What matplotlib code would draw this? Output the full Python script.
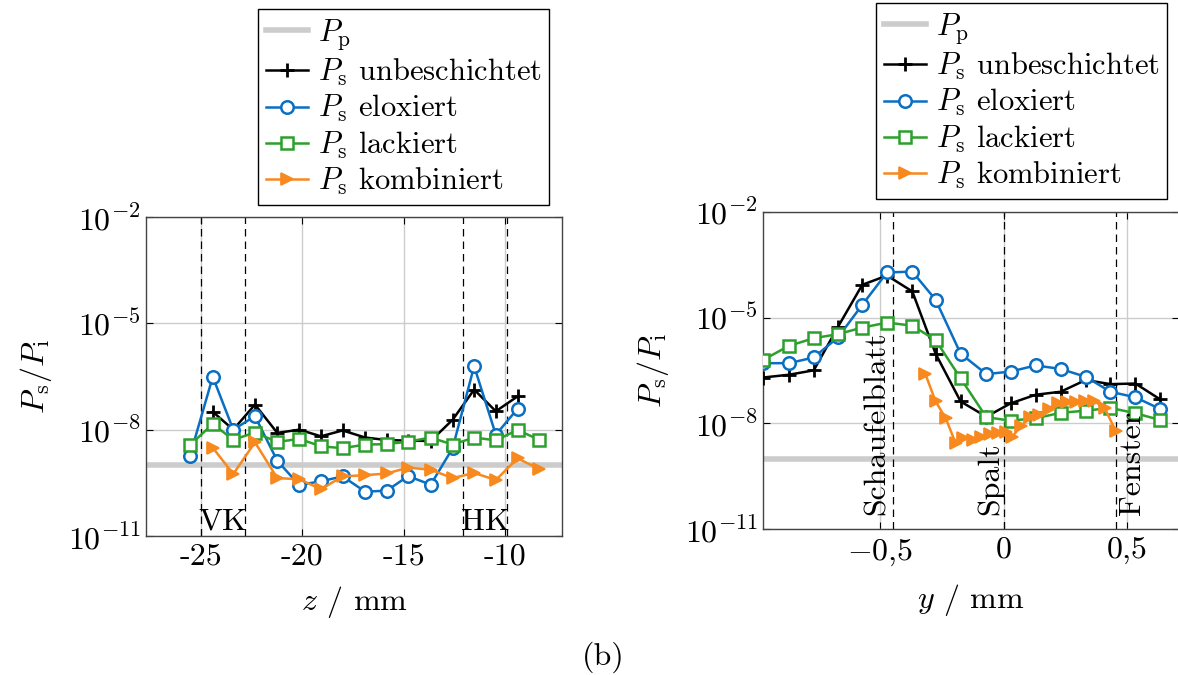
import matplotlib
matplotlib.use("Agg")
import matplotlib.pyplot as plt
import matplotlib.transforms as mtransforms
import numpy as np

plt.rcParams['font.family'] = 'cmr10'
plt.rcParams['mathtext.fontset'] = 'cm'
plt.rcParams['axes.formatter.use_mathtext'] = True
plt.rcParams['font.size'] = 23

# --- data: left plot (along z) ---
z_pos = [-25.53, -24.41, -23.40, -22.33, -21.23, -20.15, -19.08, -18.01, -16.90,
         -15.84, -14.78, -13.67, -12.59, -11.53, -10.46, -9.39, -8.33]
z_unbeschichtet = [3.2e-8, 1.0e-8, 5.1e-8, 8.1e-9, 1.0e-8, 6.5e-9, 9.5e-9, 6.0e-9,
                   5.1e-9, 4.9e-9, 4.8e-9, 1.9e-8, 1.35e-7, 3.3e-8, 8.7e-8]   # z_pos[1:16]
z_eloxiert = [1.86e-9, 3.1e-7, 1.0e-8, 2.4e-8, 1.32e-9, 2.75e-10, 3.5e-10, 4.8e-10,
              1.78e-10, 1.9e-10, 4.9e-10, 2.8e-10, 3.0e-9, 6.2e-7, 7.2e-9, 3.9e-8]  # z_pos[0:16]
z_lackiert = [3.7e-9, 1.45e-8, 5.2e-9, 8.3e-9, 4.5e-9, 5.5e-9, 3.4e-9, 3.0e-9, 3.8e-9,
              3.9e-9, 4.6e-9, 6.0e-9, 3.8e-9, 6.0e-9, 5.0e-9, 9.8e-9, 5.2e-9]     # z_pos[0:17]
z_kombiniert = [3.1e-9, 5.6e-10, 4.4e-9, 4.3e-10, 4.0e-10, 2.1e-10, 4.8e-10, 5.2e-10,
                5.8e-10, 8.5e-10, 7.4e-10, 4.3e-10, 6.0e-10, 3.8e-10, 1.55e-9, 7.8e-10]  # z_pos[1:17]
z_marks = [-25.0, -22.8, -12.07, -9.93]
z_ticks = [-25, -20, -15, -10]
z_ticklabels = ['-25', '-20', '-15', '-10']

# --- data: right plot (along y) ---
y_pos = [-0.972, -0.867, -0.767, -0.669, -0.571, -0.471, -0.369, -0.275, -0.174,
         -0.070, 0.028, 0.129, 0.230, 0.331, 0.431, 0.532, 0.630]
y_unbeschichtet = [2.0e-7, 2.4e-7, 3.2e-7, 5.5e-6, 8.5e-5, 1.55e-4, 5.5e-5, 9.5e-7, 4.2e-8,
                   1.55e-8, 3.7e-8, 6.5e-8, 7.9e-8, 1.7e-7, 1.3e-7, 1.35e-7, 4.9e-8]
y_eloxiert = [5.1e-7, 5.1e-7, 7.4e-7, 2.75e-6, 2.3e-5, 1.9e-4, 2.0e-4, 3.2e-5, 9.5e-7,
              2.5e-7, 2.95e-7, 4.4e-7, 3.5e-7, 2.1e-7, 7.9e-8, 5.5e-8, 2.6e-8]
y_lackiert = [6.3e-7, 1.58e-6, 2.6e-6, 3.4e-6, 5.2e-6, 7.2e-6, 5.9e-6, 2.3e-6, 1.9e-7,
              1.5e-8, 1.2e-8, 1.4e-8, 2.0e-8, 2.3e-8, 2.75e-8, 1.95e-8, 1.26e-8]
y_pos_komb = [-0.316, -0.275, -0.234, -0.194, -0.164, -0.124, -0.090, -0.057, -0.023, 0.011,
              0.034, 0.071, 0.105, 0.141, 0.182, 0.219, 0.256, 0.293, 0.330, 0.364, 0.408, 0.453]
y_kombiniert = [2.5e-7, 4.2e-8, 1.4e-8, 2.75e-9, 3.8e-9, 3.5e-9, 4.2e-9, 4.9e-9, 5.5e-9, 5.8e-9,
                4.2e-9, 8.5e-9, 1.5e-8, 1.7e-8, 2.6e-8, 3.7e-8, 4.0e-8, 4.1e-8, 4.3e-8, 4.4e-8,
                2.7e-8, 6.0e-9]
y_marks = [-0.449, 0.0, 0.454]
y_ticks = [-0.5, 0, 0.5]
y_ticklabels = [r'$-0{,}5$', '0', '0,5']

P_p = 1e-9
log_ticks = [1e-11, 1e-8, 1e-5, 1e-2]
log_ticklabels = [r'$10^{-11}$', r'$10^{-8}$', r'$10^{-5}$', r'$10^{-2}$']

c_blue = '#0a6fc2'
c_green = '#2ca02c'
c_orange = '#f7891f'
c_gray = '#cccccc'

fig = plt.figure(figsize=(11.78, 6.75), dpi=100)
W, H = 1178, 675
ax1 = fig.add_axes([146 / W, 1 - 536 / H, 416 / W, 319 / H])
ax2 = fig.add_axes([763 / W, 1 - 529.3 / H, 416 / W, 317.6 / H])


def style(ax):
    ax.set_yscale('log')
    ax.set_ylim(1e-11, 1e-2)
    ax.set_yticks(log_ticks)
    ax.set_yticklabels(log_ticklabels)
    ax.minorticks_off()
    ax.grid(True, color=c_gray, linewidth=1)
    ax.set_axisbelow(True)
    ax.tick_params(direction='in', length=5, top=True, right=True, width=0.8)
    ax.tick_params(axis='x', pad=5)
    for s in ax.spines.values():
        s.set_linewidth(1.0)
        s.set_color('#444444')
    ax.set_ylabel(r'$P_\mathrm{s}/P_\mathrm{i}$', labelpad=10)


def draw(ax, x, xk, un, el, la, ko, un_sl, el_sl, la_sl, ko_x):
    ax.axhline(P_p, color=c_gray, linewidth=4, label=r'$P_\mathrm{p}$', zorder=1.5)
    ax.plot(x[un_sl], un, color='black', marker='+', markersize=10, markeredgewidth=2,
            linewidth=1.8, label=r'$P_\mathrm{s}$ unbeschichtet', zorder=3)
    ax.plot(x[el_sl], el, color=c_blue, marker='o', markersize=9, markerfacecolor='white',
            markeredgewidth=1.8, linewidth=1.8, label=r'$P_\mathrm{s}$ eloxiert', zorder=3)
    ax.plot(x[la_sl], la, color=c_green, marker='s', markersize=8.5, markerfacecolor='white',
            markeredgewidth=1.8, linewidth=1.8, label=r'$P_\mathrm{s}$ lackiert', zorder=3)
    ax.plot(ko_x, ko, color=c_orange, marker='>', markersize=9, markerfacecolor=c_orange,
            markeredgewidth=1.2, linewidth=1.8, label=r'$P_\mathrm{s}$ kombiniert', zorder=3)
    for xm in xk:
        ax.axvline(xm, color='black', linestyle=(0, (6, 4)), linewidth=0.9, zorder=2)


style(ax1)
zp = np.array(z_pos)
draw(ax1, zp, z_marks, z_unbeschichtet, z_eloxiert, z_lackiert, z_kombiniert,
     slice(1, 16), slice(0, 16), slice(0, 17), zp[1:17])
ax1.set_xlim(-27.7, -7.2)
ax1.set_xticks(z_ticks)
ax1.set_xticklabels(z_ticklabels)
ax1.set_xlabel(r'$z$ / mm', labelpad=10)
tr1 = mtransforms.blended_transform_factory(ax1.transData, ax1.transAxes)
ax1.text((z_marks[0] + z_marks[1]) / 2, 0.0, 'VK', transform=tr1, ha='center', va='bottom')
ax1.text((z_marks[2] + z_marks[3]) / 2, 0.0, 'HK', transform=tr1, ha='center', va='bottom')

style(ax2)
yp = np.array(y_pos)
draw(ax2, yp, y_marks, y_unbeschichtet, y_eloxiert, y_lackiert, y_kombiniert,
     slice(0, 17), slice(0, 17), slice(0, 17), y_pos_komb)
ax2.set_xlim(-0.972, 0.708)
ax2.set_xticks(y_ticks)
ax2.set_xticklabels(y_ticklabels)
ax2.set_xlabel(r'$y$ / mm', labelpad=10)
tr2 = mtransforms.blended_transform_factory(ax2.transData, ax2.transAxes)
ax2.text(y_marks[0] - 0.006, 0.045, 'Schaufelblatt', rotation=90, transform=tr2, ha='right', va='bottom')
ax2.text(y_marks[1] + 0.004, 0.045, 'Spalt', rotation=90, transform=tr2, ha='right', va='bottom')
ax2.text(y_marks[2] + 0.010, 0.045, 'Fenster', rotation=90, transform=tr2, ha='left', va='bottom')

for ax, anchor in ((ax1, (258 / W, 1 - 9 / H)), (ax2, (876 / W, 1 - 3 / H))):
    leg = ax.legend(loc='upper left', bbox_to_anchor=anchor, bbox_transform=fig.transFigure,
                    frameon=True, fancybox=False, edgecolor='black', framealpha=1,
                    fontsize=22, handlelength=1.4, handletextpad=0.3, labelspacing=0.17,
                    borderpad=0.25, borderaxespad=0)
    leg.get_frame().set_linewidth(1.0)

fig.text(603 / W, 1 - 657 / H, '(b)', ha='center', va='center')

fig.savefig('out.png', dpi=100)
